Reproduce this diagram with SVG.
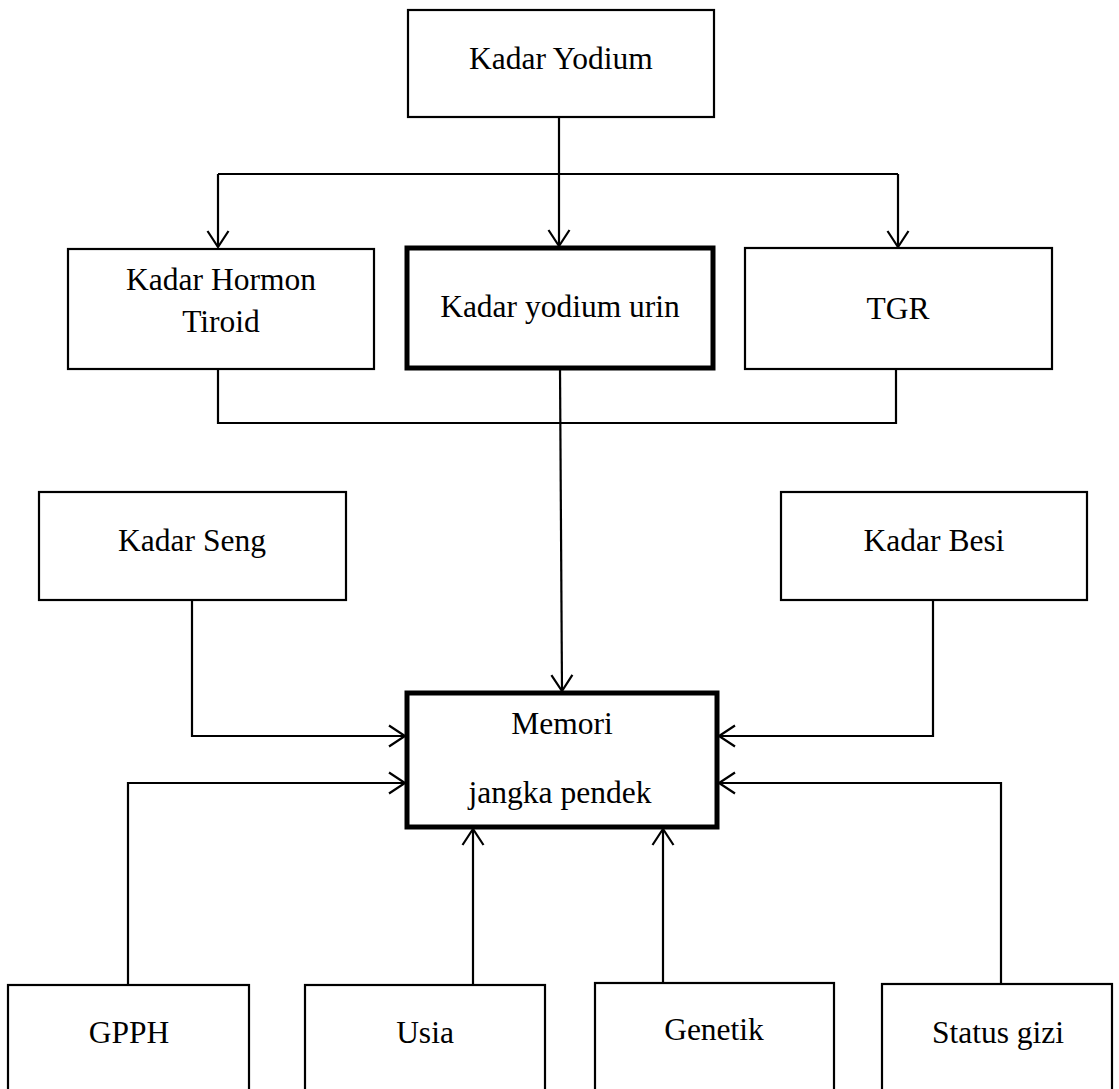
<svg xmlns="http://www.w3.org/2000/svg" width="1119" height="1089" viewBox="0 0 1119 1089">
<style>
.box{fill:#fff;stroke:#000;stroke-width:2.2}
.bold{fill:#fff;stroke:#000;stroke-width:5}
.lbl{font-family:"Liberation Serif","Times New Roman",serif;font-size:31.5px;fill:#000;text-anchor:middle}
.ln{fill:none;stroke:#000;stroke-width:2.2}
.arr{marker-end:url(#ah)}
</style>
<defs>
<marker id="ah" markerUnits="userSpaceOnUse" markerWidth="24" markerHeight="26" refX="18" refY="12" orient="auto" overflow="visible">
<path d="M2,1.5 L18,12 L2,22.5" fill="none" stroke="#000" stroke-width="2.2"/>
</marker>
</defs>
<rect width="1119" height="1089" fill="#fff"/>
<g id="connectors">
<path class="ln" d="M559,117 V174"/>
<path class="ln" d="M218,174 H898"/>
<path class="ln arr" d="M559,174 V246"/>
<path class="ln arr" d="M218,174 V247"/>
<path class="ln arr" d="M898,174 V247"/>
<path class="ln" d="M218,369 V423 H896 V369"/>
<path class="ln arr" d="M560,368 L562,691"/>
<path class="ln arr" d="M192,600 V736 H405"/>
<path class="ln arr" d="M933,600 V736 H719"/>
<path class="ln arr" d="M128,985 V783 H405"/>
<path class="ln arr" d="M1001,984 V783 H719"/>
<path class="ln arr" d="M473,985 V829"/>
<path class="ln arr" d="M663,983 V829"/>
</g>
<g id="kadar-yodium"><rect class="box" x="408" y="10" width="306" height="107"/><text class="lbl" x="561" y="69">Kadar Yodium</text></g>
<g id="kadar-hormon-tiroid"><rect class="box" x="68" y="249" width="306" height="120"/><text class="lbl" x="221" y="290">Kadar Hormon</text><text class="lbl" x="221" y="332">Tiroid</text></g>
<g id="kadar-yodium-urin"><rect class="bold" x="407" y="248" width="306" height="120"/><text class="lbl" x="560" y="317">Kadar yodium urin</text></g>
<g id="tgr"><rect class="box" x="745" y="248" width="307" height="121"/><text class="lbl" x="898" y="319">TGR</text></g>
<g id="kadar-seng"><rect class="box" x="39" y="492" width="307" height="108"/><text class="lbl" x="192" y="551">Kadar Seng</text></g>
<g id="kadar-besi"><rect class="box" x="781" y="492" width="306" height="108"/><text class="lbl" x="934" y="551">Kadar Besi</text></g>
<g id="memori"><rect class="bold" x="407" y="693" width="310" height="134"/><text class="lbl" x="562" y="734">Memori</text><text class="lbl" x="560" y="803">jangka pendek</text></g>
<g id="gpph"><rect class="box" x="8" y="985" width="241" height="120"/><text class="lbl" x="129" y="1043">GPPH</text></g>
<g id="usia"><rect class="box" x="305" y="985" width="240" height="120"/><text class="lbl" x="425" y="1043">Usia</text></g>
<g id="genetik"><rect class="box" x="595" y="983" width="239" height="120"/><text class="lbl" x="714" y="1040">Genetik</text></g>
<g id="status-gizi"><rect class="box" x="882" y="984" width="230" height="120"/><text class="lbl" x="998" y="1043">Status gizi</text></g>
</svg>
